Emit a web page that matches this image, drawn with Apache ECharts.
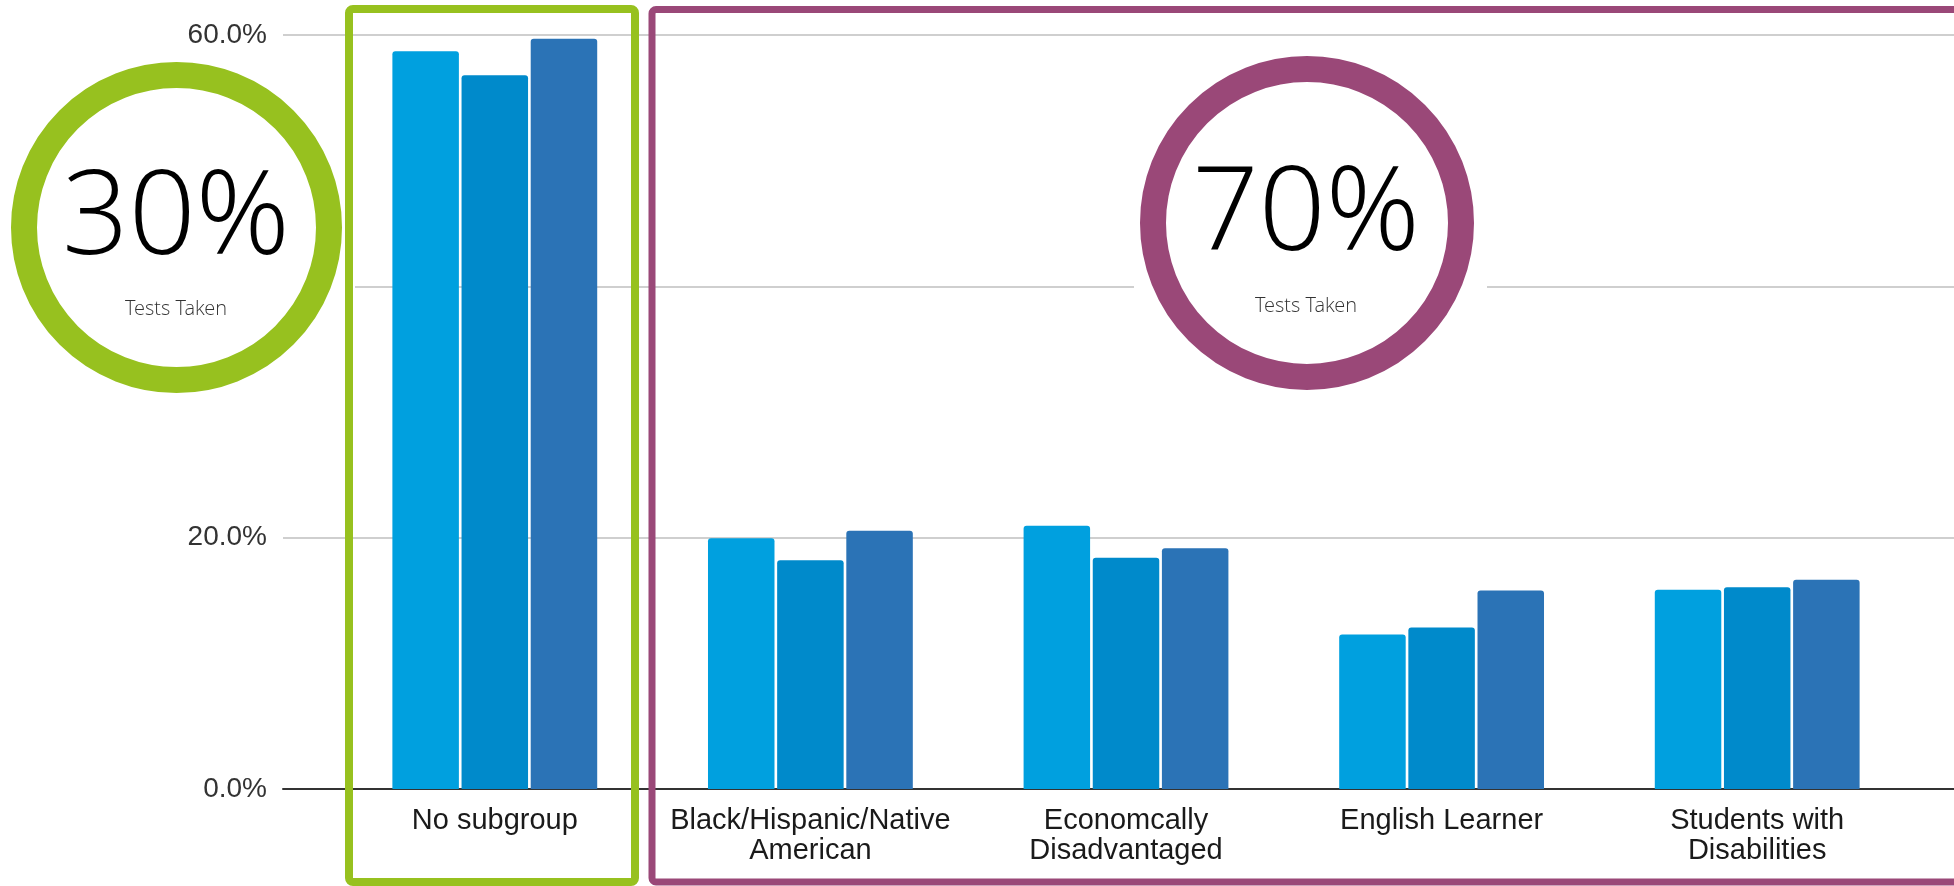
<!DOCTYPE html>
<html>
<head>
<meta charset="utf-8">
<script src="https://cdn.jsdelivr.net/npm/echarts@6/dist/echarts.min.js"></script>
<style>
html,body{margin:0;padding:0;background:#fff;}
#chart{width:1954px;height:886px;}
</style>
</head>
<body>
<div id="chart"></div>
<script>
const categories = ["No subgroup", "Black/Hispanic/Native\nAmerican", "Economcally\nDisadvantaged", "English Learner", "Students with\nDisabilities"];
const seriesNames = ["Series 1", "Series 2", "Series 3"];
const series1 = [58.7, 19.95, 20.95, 12.3, 15.85];
const series2 = [56.8, 18.2, 18.4, 12.85, 16.05];
const series3 = [59.7, 20.55, 19.15, 15.8, 16.65];
const barColors = ["#00A0DF", "#008ACB", "#2B73B6"];
const yMin = 0, yMax = 60, yInterval = 20;
const badgeValues = ["30%", "70%"];
const badgeCaption = "Tests Taken";

const chart = echarts.init(document.getElementById('chart'), null, {renderer: 'canvas'});

const gridTop = 35, gridBottom = 97;
const seriesData = [series1, series2, series3];
const bigFont = "'Open Sans Light', 'Open Sans', sans-serif";

const option = {
  animation: false,
  backgroundColor: '#fff',
  grid: [
    {left: 283, right: 0, top: gridTop, bottom: gridBottom},
    {left: 337, right: 39, top: gridTop, bottom: gridBottom}
  ],
  xAxis: [
    {gridIndex: 0, type: 'value', min: 0, max: 1,
     axisLine: {show: true, lineStyle: {color: '#333', width: 2}},
     axisTick: {show: false}, axisLabel: {show: false}, splitLine: {show: false}},
    {gridIndex: 1, type: 'category', data: categories,
     axisLine: {show: false}, axisTick: {show: false}, splitLine: {show: false},
     axisLabel: {interval: 0, margin: 17, fontFamily: 'Liberation Sans, Arial, sans-serif',
                 fontSize: 29, lineHeight: 30, color: '#1a1a1a', align: 'center'}}
  ],
  yAxis: [
    {gridIndex: 0, type: 'value', min: yMin, max: yMax, interval: yInterval,
     axisLine: {show: false}, axisTick: {show: false},
     axisLabel: {margin: 16, fontFamily: 'Liberation Sans, Arial, sans-serif', fontSize: 28, color: '#333',
                 formatter: v => v.toFixed(1) + '%'},
     splitLine: {show: true, lineStyle: {color: '#CFCFCF', width: 2}}},
    {gridIndex: 1, type: 'value', min: yMin, max: yMax, interval: yInterval, show: false,
     splitLine: {show: false}}
  ],
  series: seriesData.map((d, i) => ({
    name: seriesNames[i], type: 'bar', xAxisIndex: 1, yAxisIndex: 1,
    data: d, barWidth: 66.5, barGap: '4%',
    itemStyle: {color: barColors[i], borderRadius: [3, 3, 0, 0]}
  })),
  graphic: [
    // green badge
    {type: 'rect', shape: {x: 0, y: 50, width: 355, height: 355}, style: {fill: '#fff'}, z: 10},
    {type: 'circle', shape: {cx: 176.5, cy: 227.5, r: 152.5}, style: {fill: '#fff', stroke: '#97C11F', lineWidth: 26}, z: 11},
    {type: 'text', x: 176, y: 223, z: 12,
     style: {text: badgeValues[0], fontFamily: bigFont, fontWeight: 300, fontSize: 117, fill: '#000',
             align: 'center', verticalAlign: 'middle'}},
    {type: 'text', x: 176, y: 310, z: 12,
     style: {text: badgeCaption, fontFamily: bigFont, fontWeight: 300, fontSize: 20, fill: '#333',
             align: 'center', verticalAlign: 'middle'}},
    // purple badge
    {type: 'rect', shape: {x: 1134, y: 47, width: 353, height: 353}, style: {fill: '#fff'}, z: 10},
    {type: 'circle', shape: {cx: 1307, cy: 223, r: 154}, style: {fill: '#fff', stroke: '#9A4878', lineWidth: 26}, z: 11},
    {type: 'text', x: 1306, y: 219, z: 12,
     style: {text: badgeValues[1], fontFamily: bigFont, fontWeight: 300, fontSize: 117, fill: '#000',
             align: 'center', verticalAlign: 'middle'}},
    {type: 'text', x: 1306, y: 307, z: 12,
     style: {text: badgeCaption, fontFamily: bigFont, fontWeight: 300, fontSize: 20, fill: '#333',
             align: 'center', verticalAlign: 'middle'}},
    // group boxes
    {type: 'rect', shape: {x: 349, y: 9, width: 286, height: 873, r: 4},
     style: {fill: 'none', stroke: '#97C11F', lineWidth: 8}, z: 20},
    {type: 'rect', shape: {x: 652, y: 9.5, width: 1400, height: 872.5, r: 4},
     style: {fill: 'none', stroke: '#9A4878', lineWidth: 7}, z: 20}
  ]
};
chart.setOption(option);
</script>
</body>
</html>
